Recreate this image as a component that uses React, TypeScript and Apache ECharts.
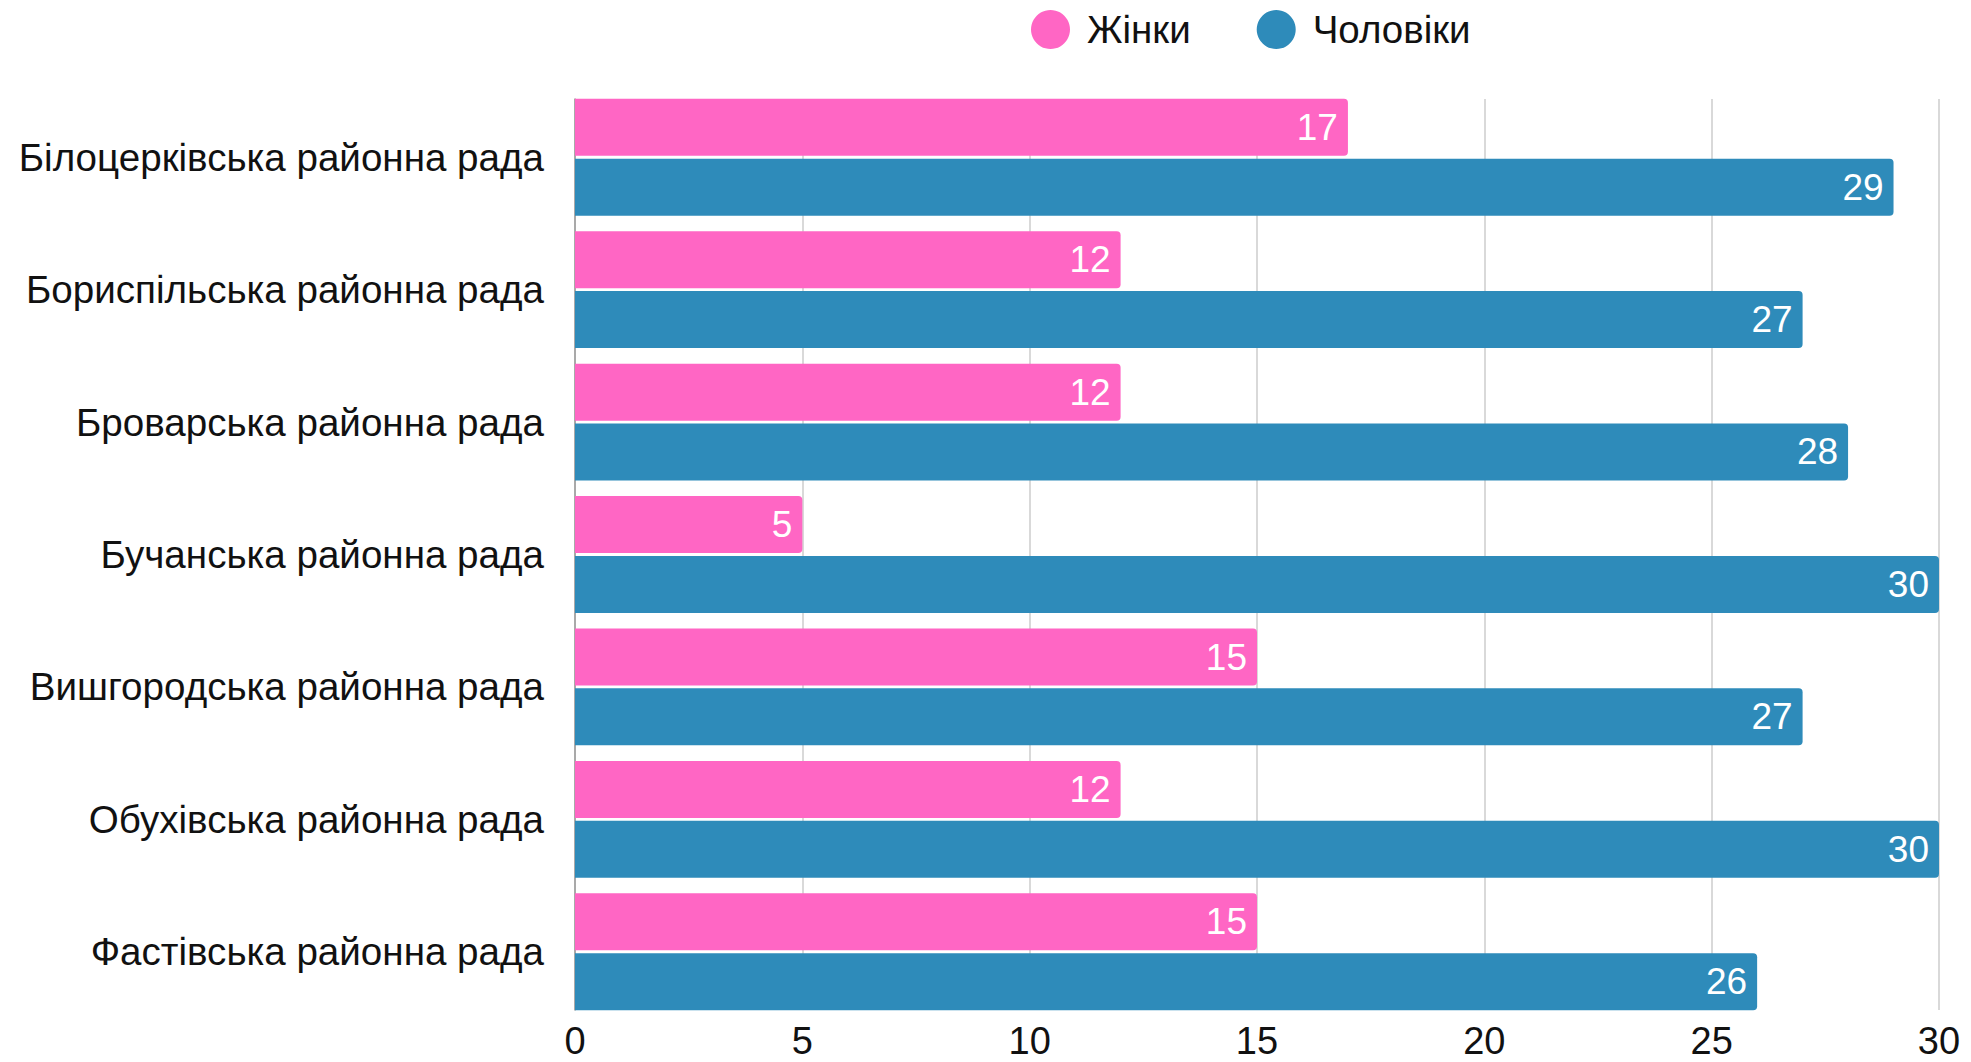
import React, { useEffect, useRef } from "react";
import * as echarts from "echarts";

const categories = [
  "Білоцерківська районна рада",
  "Бориспільська районна рада",
  "Броварська районна рада",
  "Бучанська районна рада",
  "Вишгородська районна рада",
  "Обухівська районна рада",
  "Фастівська районна рада",
];
const women = [17, 12, 12, 5, 15, 12, 15];
const men = [29, 27, 28, 30, 27, 30, 26];
const seriesNames = ["Жінки", "Чоловіки"];
const colors = ["#FF66C4", "#2E8BBA"];

const FONT = "'Liberation Sans', Arial, sans-serif";

export default function App() {
  const ref = useRef<HTMLDivElement>(null);
  useEffect(() => {
    document.body.style.margin = "0";
    document.body.style.overflow = "hidden";
    if (!ref.current) return;
    const chart = echarts.init(ref.current, null, { renderer: "svg" });
    const labelCfg = {
      show: true,
      position: "insideRight",
      distance: 10,
      color: "#fff",
      fontSize: 37,
      fontFamily: FONT,
    };
    chart.setOption({
      animation: false,
      textStyle: { fontFamily: FONT },
      legend: {
        left: 1026,
        top: 5,
        icon: "circle",
        itemWidth: 39,
        itemHeight: 39,
        itemGap: 66,
        textStyle: { fontSize: 38.5, color: "#111", fontFamily: FONT, padding: [0, 0, 0, 12] },
        data: seriesNames,
      },
      grid: [
        { left: 575, right: 32, top: 91, bottom: 44 },
        { left: 575, right: 32, top: 99, bottom: 52 },
      ],
      xAxis: [
        {
          type: "value",
          gridIndex: 0,
          min: 0,
          max: 30,
          interval: 5,
          splitLine: { show: false },
          axisLine: { show: false },
          axisTick: { show: false },
          axisLabel: { fontSize: 38, lineHeight: 38, color: "#111", margin: 4, fontFamily: FONT },
        },
        {
          type: "value",
          gridIndex: 1,
          min: 0,
          max: 30,
          interval: 5,
          splitLine: { show: true, lineStyle: { color: "#cccccc", width: 1.5 } },
          axisLine: { show: false },
          axisTick: { show: false },
          axisLabel: { show: false },
        },
      ],
      yAxis: [
        {
          type: "category",
          gridIndex: 0,
          data: categories,
          inverse: true,
          axisLine: { show: false },
          axisTick: { show: false },
          axisLabel: { fontSize: 38.6, color: "#111", margin: 31, fontFamily: FONT },
        },
        {
          type: "category",
          gridIndex: 1,
          data: categories,
          inverse: true,
          axisLine: { show: true, lineStyle: { color: "#999", width: 1.5 } },
          axisTick: { show: false },
          axisLabel: { show: false },
        },
      ],
      series: [
        {
          name: seriesNames[0],
          type: "bar",
          xAxisIndex: 0,
          yAxisIndex: 0,
          data: women,
          barWidth: 57,
          barGap: "5%",
          itemStyle: { color: colors[0], borderRadius: [0, 4, 4, 0] },
          label: labelCfg,
        },
        {
          name: seriesNames[1],
          type: "bar",
          xAxisIndex: 0,
          yAxisIndex: 0,
          data: men,
          barWidth: 57,
          barGap: "5%",
          itemStyle: { color: colors[1], borderRadius: [0, 4, 4, 0] },
          label: labelCfg,
        },
      ],
    });
    return () => chart.dispose();
  }, []);
  return <div ref={ref} style={{ width: 1971, height: 1062 }} />;
}
